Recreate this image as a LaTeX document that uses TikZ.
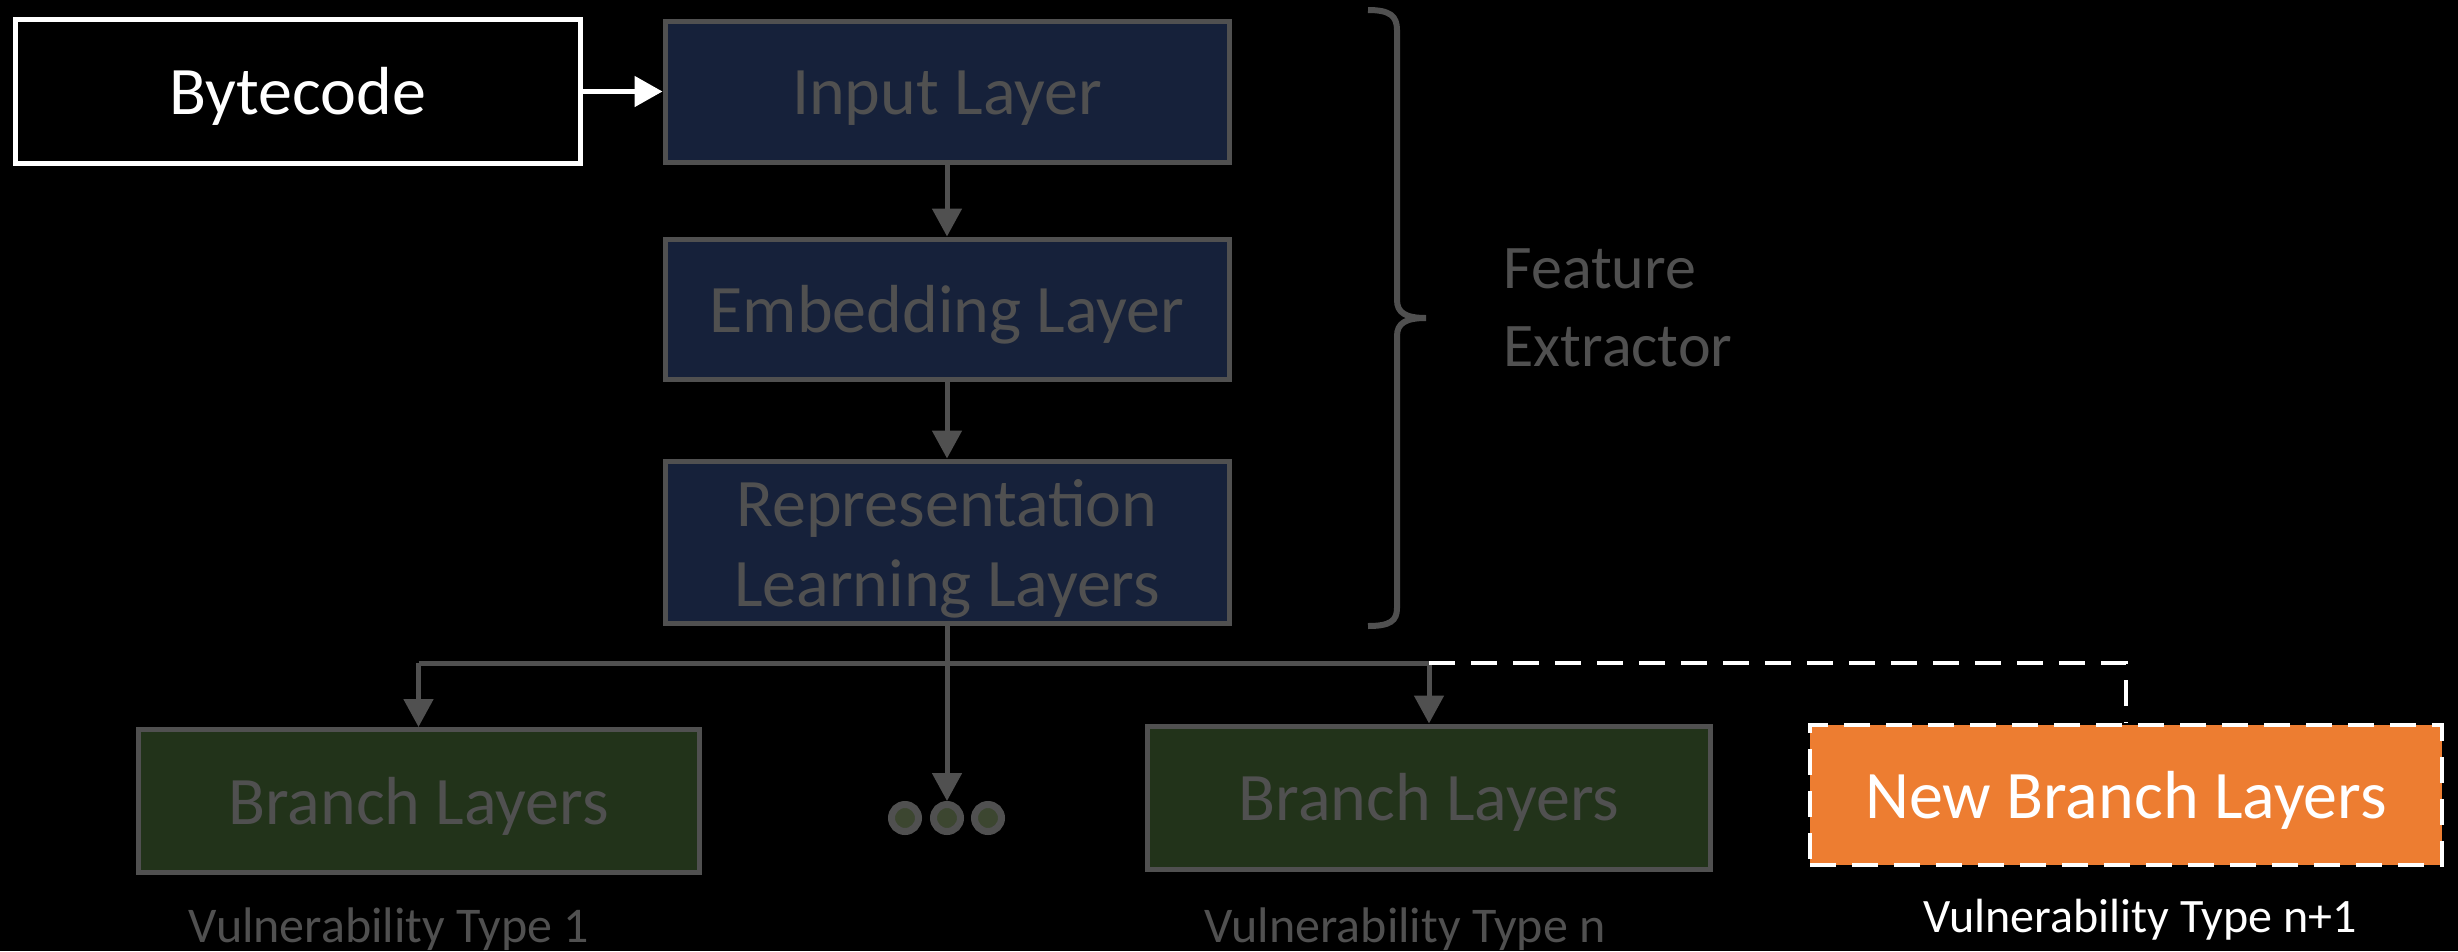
\documentclass[tikz,border=0pt]{standalone}
\usepackage{fontspec}
\setmainfont{Carlito}
\usetikzlibrary{arrows.meta}
\definecolor{dimgrey}{HTML}{505050}
\definecolor{navyfill}{HTML}{16213A}
\definecolor{greenfill}{HTML}{22331A}
\definecolor{dotfill}{HTML}{3C4630}
\definecolor{orangefill}{HTML}{ED7D31}
\tikzset{
  boxtext/.style={inner sep=0pt, font=\fontsize{68}{80}\selectfont, align=center,
    text height=46pt, text depth=0pt},
  box/.style={boxtext, draw=dimgrey, line width=5pt, text=dimgrey},
  layerbox/.style={box, fill=navyfill, minimum width=564pt},
  branchbox/.style={box, fill=greenfill, minimum height=143pt},
  link/.style={draw=dimgrey, line width=5pt, -{Triangle[length=28pt,width=29pt]}},
  plainlink/.style={draw=dimgrey, line width=5pt},
  dashlink/.style={draw=white, line width=4pt, dash pattern=on 26pt off 16pt},
  dotc/.style={circle, draw=dimgrey, fill=dotfill, line width=7pt, minimum size=27pt, inner sep=0pt},
  caption/.style={anchor=base}
}
\begin{document}
\begin{tikzpicture}[x=1pt,y=-1pt]
  % canvas
  \useasboundingbox (0,0) rectangle (2458,951);
  \fill[black] (0,0) rectangle (2458,951);

  % input source
  \node[boxtext, draw=white, fill=black, line width=5pt, text=white,
        minimum width=565pt, minimum height=144pt] (byte) at (297.5,91.5) {Bytecode};

  % feature extractor stack
  \node[layerbox, minimum height=141pt] (input) at (947,91.5) {Input Layer};
  \node[layerbox, minimum height=140pt] (embed) at (947,309) {Embedding Layer};
  \node[layerbox, minimum height=162pt, text height=128pt] (repr) at (947,542)
    {Representation\\Learning Layers};

  \draw[line width=5pt, white, -{Triangle[length=28pt,width=30pt]}] (byte.east) -- (input.west);
  \draw[link] (input.south) -- (embed.north);
  \draw[link] (embed.south) -- (repr.north);

  % brace and its label
  \draw[dimgrey, line width=6pt]
    (1368,10) .. controls (1390,10) and (1397,16) .. (1397,30)
    -- (1397,300) .. controls (1397,313) and (1406,318) .. (1426,318)
    .. controls (1406,318) and (1397,323) .. (1397,336)
    -- (1397,608) .. controls (1397,621) and (1390,626) .. (1368,626);
  \node[text=dimgrey, font=\fontsize{62}{78}\selectfont, align=left, anchor=base west]
    (fe) at (1500,366) {Feature\\Extractor};

  % branches
  \node[branchbox, minimum width=561pt] (b1) at (418.5,801) {Branch Layers};
  \node[branchbox, minimum width=563pt] (bn) at (1429,797.5) {Branch Layers};
  \node[boxtext, draw=white, dash pattern=on 26pt off 16pt, line width=4pt, fill=orangefill,
        text=white, minimum width=632pt, minimum height=140pt] (nb) at (2126,795)
    {New Branch Layers};

  \node[dotc] (d1) at (905,818) {};
  \node[dotc] (d2) at (947,818) {};
  \node[dotc] (d3) at (988,818) {};

  % fan-out of the shared representation
  \coordinate (split) at (947,663);
  \coordinate (left) at (b1.north |- split);
  \coordinate (right) at (bn.north |- split);
  \coordinate (far) at (nb.north |- split);
  \draw[plainlink] (repr.south) -- (split);
  \draw[plainlink] (left) -- (right);
  \draw[link] (left) -- (b1.north);
  \draw[link] (split) -- (d2.north);
  \draw[link] (right) -- (bn.north);
  \draw[dashlink] (right) -- (far) -- (nb.north);

  % captions
  \node[caption, text=dimgrey, font=\fontsize{50}{60}\selectfont] (c1) at (389,942) {Vulnerability Type 1};
  \node[caption, text=dimgrey, font=\fontsize{50}{60}\selectfont] (cn) at (1405,942) {Vulnerability Type n};
  \node[caption, text=white, font=\fontsize{48}{58}\selectfont] (cn1) at (2140,932) {Vulnerability Type n+1};
\end{tikzpicture}
\end{document}
